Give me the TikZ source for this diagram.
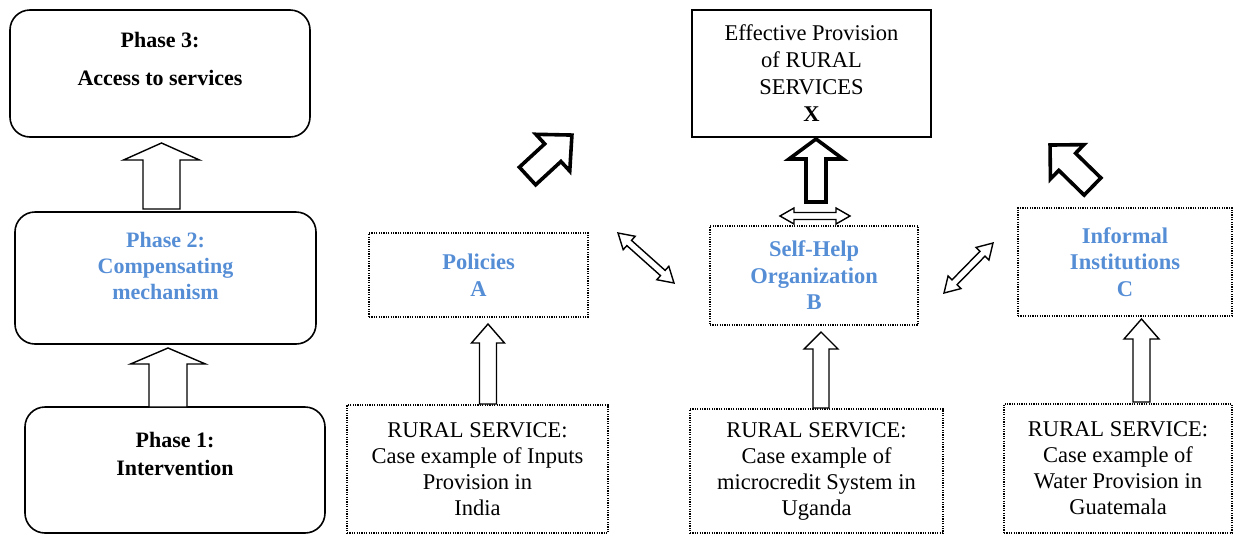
\documentclass[tikz,border=0pt]{standalone}
\usepackage{fontspec}
\setmainfont{Liberation Serif}
\usetikzlibrary{calc, positioning}
\definecolor{my_blue}{RGB}{86, 142, 214}
\tikzset {
  phasebox/.style = {draw, line width=1.6pt, rounded corners=20pt, rectangle},
  phasetext/.style = {align=center, inner sep=0pt, font=\fontsize{22}{27}\selectfont\bfseries},
  provbox/.style = {draw, line width=1.5pt, rectangle, align=center, inner sep=0pt, font=\fontsize{22.5}{27}\selectfont},
  dotbox/.style = {draw, line width=1.4pt, dash pattern=on 1.2pt off 1.2pt, rectangle, align=center, inner sep=0pt, font=\fontsize{22.5}{26}\selectfont},
  factor/.style = {dotbox, text=my_blue, font=\fontsize{22.5}{26.5}\selectfont\bfseries},
  hollow/.style = {draw, line width=1.4pt, fill=white, line join=miter},
  heavy/.style = {draw, line width=3.6pt, fill=white, line join=miter}
}
% direction and length from #1 to #2, kept in \arrang and \arrlen
\newcommand{\arrowdir}[2]{%
  \path let \p1 = ($(#2)-(#1)$) in
    \pgfextra{\pgfmathsetmacro{\tmpang}{atan2(\y1,\x1)}%
      \pgfmathsetmacro{\tmplen}{veclen(\x1,\y1)}%
      \xdef\arrang{\tmpang}\xdef\arrlen{\tmplen}};}
% block arrow: style, from, to, half shaft, half head, head length
\newcommand{\blockarrow}[6][hollow]{%
  \arrowdir{#2}{#3}%
  \begin{scope}[shift={(#2)}, rotate=\arrang]
    \draw[#1] (0pt,-#4) -- ({\arrlen pt-#6},-#4) -- ({\arrlen pt-#6},-#5) -- (\arrlen pt,0pt)
      -- ({\arrlen pt-#6},#5) -- ({\arrlen pt-#6},#4) -- (0pt,#4) -- cycle;
  \end{scope}}
% same with a head at both ends
\newcommand{\twowayarrow}[6][hollow]{%
  \arrowdir{#2}{#3}%
  \begin{scope}[shift={(#2)}, rotate=\arrang]
    \draw[#1] (0pt,0pt) -- (#6,-#5) -- (#6,-#4) -- ({\arrlen pt-#6},-#4) -- ({\arrlen pt-#6},-#5)
      -- (\arrlen pt,0pt) -- ({\arrlen pt-#6},#5) -- ({\arrlen pt-#6},#4) -- (#6,#4) -- (#6,#5) -- cycle;
  \end{scope}}

\begin{document}
\begin{tikzpicture}[x=1pt, y=-1pt]
    \useasboundingbox (0,0) rectangle (1238,536);

    % phases
    \node[phasebox, minimum width=300pt, minimum height=127pt] (ph3) at (160,73.5) {};
    \node[phasebox, minimum width=301pt, minimum height=132pt] (ph2) at (165.5,278) {};
    \node[phasebox, minimum width=300pt, minimum height=126pt] (ph1) at (175,470) {};
    \node[phasetext] (ph3txt) at (160,59) {Phase 3:\\[11pt]Access to services};
    \node[phasetext, text=my_blue, font=\fontsize{22}{26}\selectfont\bfseries] (ph2txt) at (165.5,266) {Phase 2:\\Compensating\\mechanism};
    \node[phasetext, font=\fontsize{22}{28}\selectfont\bfseries] (ph1txt) at (175,454) {Phase 1:\\Intervention};

    % outcome, factors and cases
    \node[provbox, minimum width=239pt, minimum height=127pt] (prov) at (811.5,73.5) {Effective Provision\\of RURAL\\SERVICES\\\textbf{X}};
    \node[factor, minimum width=219pt, minimum height=84pt] (pol) at (478.5,275) {Policies\\A};
    \node[factor, minimum width=208pt, minimum height=99pt] (sho) at (814,275.5) {Self-Help\\Organization\\B};
    \node[factor, minimum width=214pt, minimum height=108pt] (inf) at (1125,262) {Informal\\Institutions\\C};
    \node[dotbox, minimum width=261pt, minimum height=128pt] (case1) at (477.5,469) {RURAL SERVICE:\\Case example of Inputs\\Provision in\\India};
    \node[dotbox, minimum width=253pt, minimum height=124pt] (case2) at (816.5,471) {RURAL SERVICE:\\Case example of\\microcredit System in\\Uganda};
    \node[dotbox, minimum width=228pt, minimum height=129pt] (case3) at (1118,468.5) {RURAL SERVICE:\\Case example of\\Water Provision in\\Guatemala};

    % arrow ends
    \coordinate (up1s) at (161.5,209);   \coordinate (up1e) at (161.5,143);
    \coordinate (up2s) at (168,407);     \coordinate (up2e) at (168,348);
    \coordinate (caseAs) at (488,404);   \coordinate (caseAe) at (488,324);
    \coordinate (caseBs) at (821,408);   \coordinate (caseBe) at (821,332);
    \coordinate (caseCs) at (1141.5,402); \coordinate (caseCe) at (1141.5,319);
    \coordinate (shoX) at (816,202);     \coordinate (shoXe) at (816,139);
    \coordinate (polX) at (527.5,176);   \coordinate (polXe) at (572,135);
    \coordinate (infX) at (1092.5,186.5); \coordinate (infXe) at (1050,145);
    \coordinate (shoL) at (780,216);     \coordinate (shoR) at (850,216);
    \coordinate (polB) at (618,233);     \coordinate (shoA) at (674,283);
    \coordinate (shoC) at (944,293);     \coordinate (infB) at (993,243);

    \blockarrow{up1s}{up1e}{18.5pt}{38pt}{17pt}
    \blockarrow{up2s}{up2e}{19pt}{37.5pt}{16pt}
    \blockarrow{caseAs}{caseAe}{8.5pt}{16.5pt}{19pt}
    \blockarrow{caseBs}{caseBe}{8pt}{17pt}{17pt}
    \blockarrow{caseCs}{caseCe}{8.5pt}{17.5pt}{20pt}
    \blockarrow[heavy]{shoX}{shoXe}{10pt}{27pt}{20pt}
    \blockarrow[heavy]{polX}{polXe}{12pt}{25pt}{26pt}
    \blockarrow[heavy]{infX}{infXe}{12pt}{24pt}{24pt}
    \twowayarrow{shoL}{shoR}{3.5pt}{8pt}{14pt}
    \twowayarrow{polB}{shoA}{3.5pt}{9pt}{15pt}
    \twowayarrow{shoC}{infB}{3.5pt}{9pt}{15pt}

\end{tikzpicture}
\end{document}
